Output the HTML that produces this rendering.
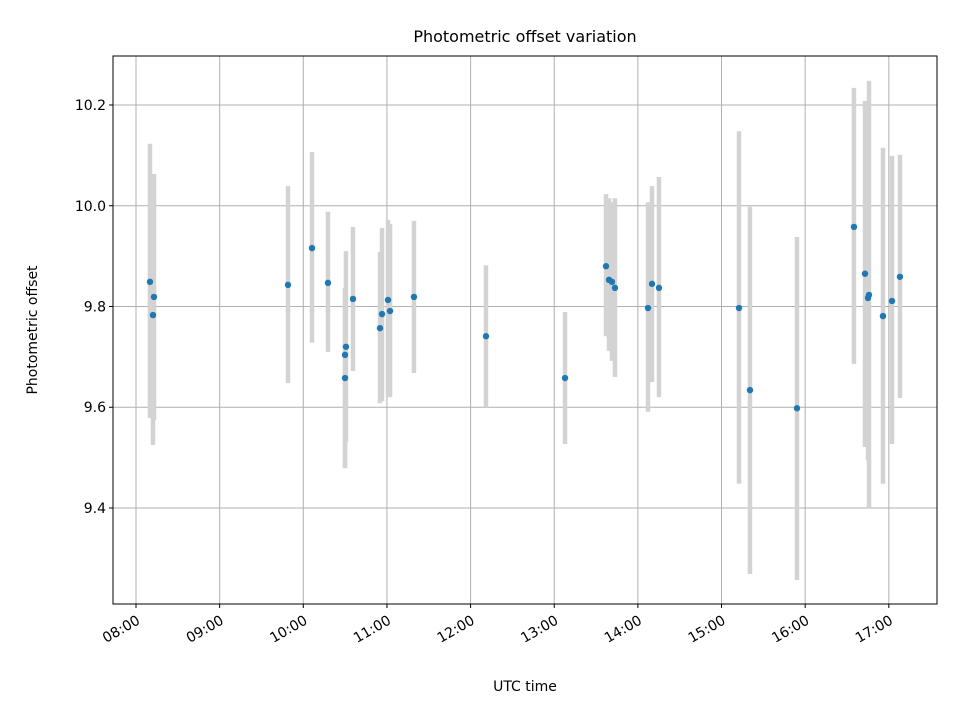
<!DOCTYPE html>
<html><head><meta charset="utf-8"><style>
body{margin:0;background:#fff;}
svg text{font-family:"DejaVu Sans","Liberation Sans",sans-serif;fill:#000;}
</style></head><body>
<svg id="chart" width="960" height="720" xmlns="http://www.w3.org/2000/svg">
<rect width="960" height="720" fill="#fff"/>
<g id="grid"></g><g id="bars"></g><g id="pts"></g><g id="axes"></g>
<text x="525" y="42" font-size="16" text-anchor="middle">Photometric offset variation</text>
<text x="525" y="691" font-size="14" text-anchor="middle">UTC time</text>
<text transform="translate(37,330) rotate(-90)" font-size="14" text-anchor="middle">Photometric offset</text>
</svg>
<script>
const times=[8.167,8.215,8.203,9.817,10.104,10.295,10.510,10.499,10.499,10.594,10.917,10.941,11.013,11.037,11.323,12.184,13.129,13.619,13.655,13.690,13.726,14.121,14.169,14.252,15.209,15.340,15.902,16.583,16.715,16.763,16.751,16.930,17.038,17.133];
const offsets=[9.849,9.819,9.783,9.843,9.916,9.847,9.720,9.704,9.658,9.815,9.757,9.785,9.813,9.791,9.819,9.741,9.658,9.880,9.853,9.849,9.837,9.797,9.845,9.837,9.797,9.634,9.598,9.958,9.865,9.823,9.817,9.781,9.811,9.859];
const upper=[10.123,10.063,10.04,10.039,10.107,9.988,9.910,9.837,9.823,9.958,9.908,9.956,9.972,9.964,9.970,9.882,9.789,10.023,10.015,10.007,10.015,10.007,10.039,10.057,10.148,9.998,9.938,10.234,10.208,10.248,10.190,10.115,10.099,10.101];
const lower=[9.579,9.575,9.525,9.648,9.728,9.710,9.531,9.479,9.483,9.672,9.608,9.612,9.620,9.620,9.668,9.600,9.527,9.741,9.712,9.692,9.660,9.591,9.650,9.620,9.448,9.269,9.257,9.686,9.521,9.400,9.495,9.448,9.527,9.618];
const xTicks=[8,9,10,11,12,13,14,15,16,17];
const xTickLabels=["08:00","09:00","10:00","11:00","12:00","13:00","14:00","15:00","16:00","17:00"];
const yTicks=[9.4,9.6,9.8,10.0,10.2];
const yTickLabels=["9.4","9.6","9.8","10.0","10.2"];
const L=113,R=937,T=56,B=604,x0=7.725,x1=17.576,y0=9.2094,y1=10.2973;
const X=h=>L+(h-x0)/(x1-x0)*(R-L);
const Y=v=>B-(v-y0)/(y1-y0)*(B-T);
const NS="http://www.w3.org/2000/svg";
function mk(p,tag,a){const e=document.createElementNS(NS,tag);for(const k in a)e.setAttribute(k,a[k]);p.appendChild(e);return e;}
const g=document.getElementById('grid'),bars=document.getElementById('bars'),pts=document.getElementById('pts'),ax=document.getElementById('axes');
xTicks.forEach((t,i)=>{const x=X(t);
 const l=mk(g,'line',{x1:x,x2:x,y1:T,y2:B,stroke:'#b0b0b0','stroke-width':1});
 
 
 mk(ax,'line',{x1:x,x2:x,y1:B,y2:B+4,stroke:'#000'});
 const tx=mk(ax,'text',{'font-size':14,'text-anchor':'end',transform:`translate(${x+5},${B+19}) rotate(-30)`});
 tx.textContent=xTickLabels[i];
 
 
});
yTicks.forEach((t,i)=>{const y=Y(t);
 const l=mk(g,'line',{x1:L,x2:R,y1:y,y2:y,stroke:'#b0b0b0','stroke-width':1});
 
 
 mk(ax,'line',{x1:L-4,x2:L,y1:y,y2:y,stroke:'#000'});
 const tx=mk(ax,'text',{x:L-7,y:y+5,'font-size':14,'text-anchor':'end'});
 tx.textContent=yTickLabels[i];
 
 
});
times.forEach((t,i)=>{const x=X(t);
 const b=mk(bars,'line',{x1:x,x2:x,y1:Y(upper[i]),y2:Y(lower[i]),stroke:'#d3d3d3','stroke-width':4.5});
 
 
 const c=mk(pts,'circle',{cx:x,cy:Y(offsets[i]),r:3.2,fill:'#1f77b4'});
 
 
});
const f=mk(ax,'rect',{x:L,y:T,width:R-L,height:B-T,fill:'none',stroke:'#000','stroke-width':1});


</script>
</body></html>
